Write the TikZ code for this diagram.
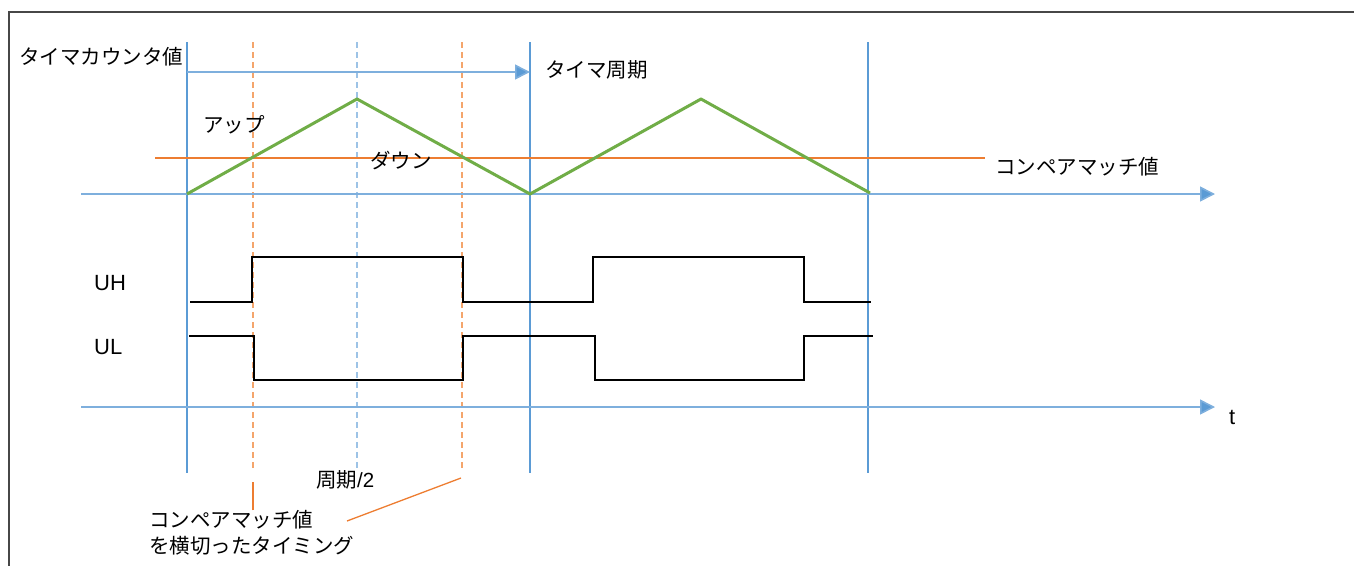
\documentclass[tikz,border=0pt]{standalone}
\usepackage{fontspec}
\setmainfont{Liberation Sans}
\newfontfamily\jpfont{Noto Sans CJK JP}
\usepackage{tikz}
\usetikzlibrary{arrows.meta,positioning}

\definecolor{periodblue}{HTML}{5B9BD5}
\definecolor{axisblue}{HTML}{7EAFDD}
\definecolor{halfblue}{HTML}{9DC3E6}
\definecolor{cmporange}{HTML}{ED7D31}
\definecolor{markorange}{HTML}{F4A56C}
\definecolor{cntgreen}{HTML}{70AD47}

\begin{document}
\begin{tikzpicture}[
    x=1pt, y=-1pt,
    font=\fontsize{21}{27}\selectfont,
    jptext/.style={font=\jpfont\fontsize{20.5}{27}\selectfont, inner sep=0pt, anchor=west},
    sigtext/.style={font=\fontsize{22}{27}\selectfont, inner sep=0pt, anchor=west},
    frame/.style={draw=black!72, line width=1.4pt},
    period/.style={draw=periodblue, line width=1.8pt},
    timeaxis/.style={draw=axisblue, line width=1.6pt,
                     -{Triangle[length=15pt, width=15pt, fill=periodblue]}},
    halfmark/.style={draw=halfblue, line width=1.5pt, dash pattern=on 6pt off 4pt},
    matchmark/.style={draw=markorange, line width=1.5pt, dash pattern=on 6pt off 4pt},
    cmpline/.style={draw=cmporange, line width=1.7pt},
    counter/.style={draw=cntgreen, line width=3pt, line join=round},
    gate/.style={draw=black, line width=2.8pt, line join=miter},
    callout/.style={draw=cmporange, line width=1.3pt}
]
\useasboundingbox (0,0) rectangle (1354,565);

% Frame (cut at right and bottom).
\draw[frame] (9,570) -- (9,12) -- (1360,12);

% Timer period boundaries and marks.
\draw[period] (187,42) -- (187,473);
\draw[period] (530,42) -- (530,473);
\draw[period] (868,42) -- (868,473);
\draw[halfmark] (357,42) -- (357,468);
\draw[matchmark] (253,42) -- (253,468);
\draw[matchmark] (462,42) -- (462,468);

% Axes.
\draw[timeaxis] (81,194) -- (1215,194);
\draw[timeaxis] (81,407) -- (1215,407);
\draw[timeaxis] (187,72) -- (530,72);

% Compare match level and counter.
\draw[cmpline] (155,158) -- (985,158);
\draw[counter] (187,194) -- (357,99) -- (530,194) -- (701,99) -- (870,193);

% Gate signals.
\draw[gate] (190,302) -- (252,302) -- (252,257) -- (463,257) -- (463,302)
    -- (593,302) -- (593,257) -- (804,257) -- (804,302) -- (871,302);
\draw[gate] (189,336) -- (254,336) -- (254,380) -- (463,380) -- (463,336)
    -- (595,336) -- (595,380) -- (804,380) -- (804,336) -- (873,336);

% Labels.
\node[jptext] (cntlabel) at (19,57) {タイマカウンタ値};
\node[jptext] (periodlabel) at (545,70) {タイマ周期};
\node[jptext] (uplabel) at (203,125) {アップ};
\node[jptext] (downlabel) at (370,161) {ダウン};
\node[jptext] (matchlabel) at (995,167) {コンペアマッチ値};
\node[sigtext] (uh) at (94,283) {UH};
\node[sigtext] (ul) at (94,347) {UL};
\node[sigtext] (tlabel) at (1229,417) {t};
\node[jptext] (halflabel) at (316,480) {周期{\fontspec{Liberation Sans}/2}};
\node[jptext] (crossa) at (149,520) {コンペアマッチ値};
\node[jptext, below=6pt of crossa.south west, anchor=north west] (crossb) {を横切ったタイミング};

% Callouts.
\coordinate (mark1) at (253,482);
\coordinate (mark2) at (461,478);
\coordinate (crossend) at (347,521);
\draw[callout] (mark1 |- crossa.north) -- (mark1);
\draw[callout] (crossend) -- (mark2);

\end{tikzpicture}
\end{document}
